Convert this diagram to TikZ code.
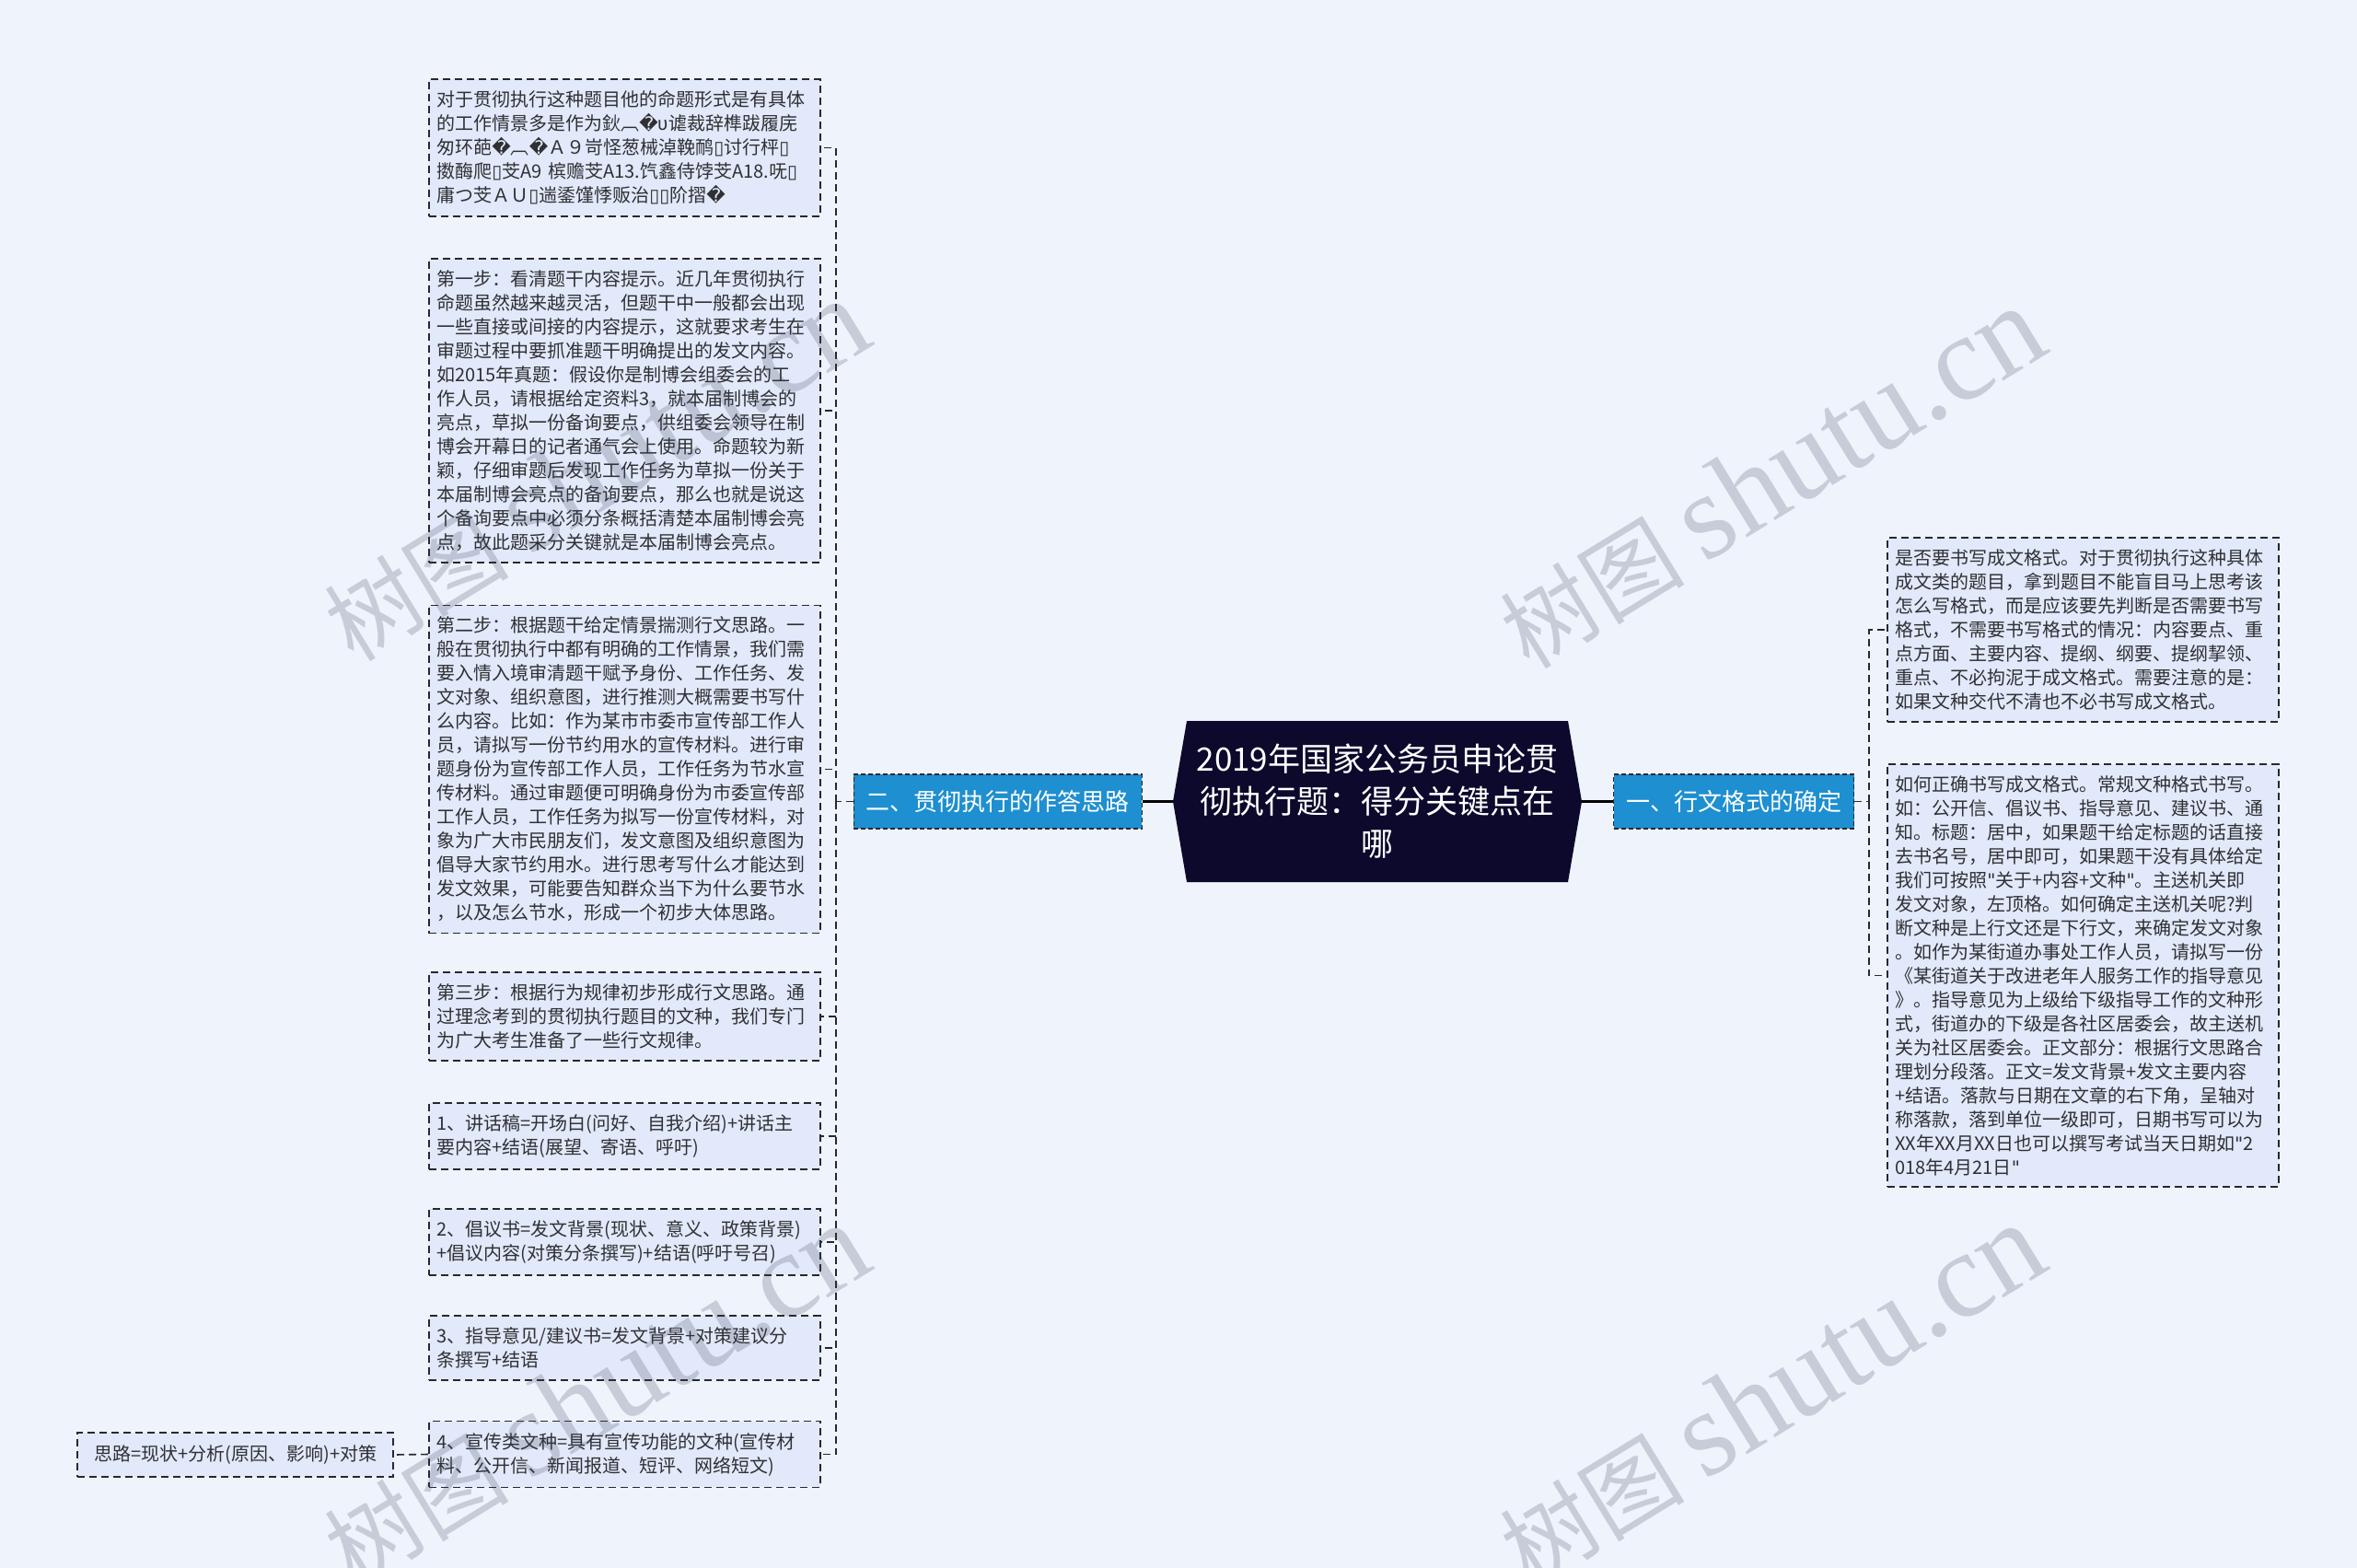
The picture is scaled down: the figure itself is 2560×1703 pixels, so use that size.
\documentclass[tikz,border=0pt]{standalone}
\usepackage{fontspec}
\setmainfont{Noto Sans CJK SC}[Ligatures=ResetAll]
\newfontfamily\dejavu{DejaVu Sans}[Ligatures=ResetAll]
\newfontfamily\wmfont{Liberation Serif}
\definecolor{pagebg}{RGB}{239,243,252}
\definecolor{notefill}{RGB}{225,233,250}
\definecolor{notetext}{RGB}{48,48,52}
\definecolor{branchblue}{RGB}{30,143,208}
\definecolor{hubnavy}{RGB}{12,9,44}
\definecolor{dashgray}{RGB}{40,40,46}
\definecolor{wmgray}{RGB}{60,68,90}
\newcommand{\badch}{{\dejavu\symbol{"FFFD}}}
\newcommand{\tofu}{{\dejavu\symbol{"25AF}}}
\newcommand{\dq}{{\dejavu\symbol{34}}}

\begin{document}
\begin{tikzpicture}[x=1pt,y=-1pt,
    note/.style={draw=dashgray,fill=notefill,dash pattern=on 8pt off 5pt,line width=1.6pt,
      text width=408pt,align=left,inner xsep=8.5pt,inner ysep=12.5pt,anchor=west,
      text=notetext,font=\fontsize{20}{26}\selectfont},
    branch/.style={draw=dashgray,dash pattern=on 5pt off 3pt,line width=1.2pt,fill=branchblue,
      text=white,font=\fontsize{26}{30}\selectfont,inner xsep=13.5pt,inner ysep=0pt,minimum height=59pt},
    hub/.style={text=white,align=center,font=\fontsize{35}{46}\selectfont,inner sep=0pt,
      minimum width=414pt,minimum height=175pt},
    link/.style={draw=dashgray,dash pattern=on 8pt off 5pt,line width=1.6pt},
    elbow/.style={to path={|- (\tikztotarget)}},
    hubline/.style={draw=black,line width=3pt},
    wmark/.style={text=wmgray,opacity=0.22,rotate=31.5,inner sep=0pt,font=\fontsize{100}{100}\selectfont}]

  \useasboundingbox (0,0) rectangle (2560,1703);
  \fill[pagebg] (0,0) rectangle (2560,1703);

  % central topic
  \fill[hubnavy] (1289,783) -- (1703,783) -- (1718,870.5) -- (1703,958)
                 -- (1289,958) -- (1274,870.5) -- cycle;
  \node[hub](hub) at (1496,870.5) {2019年国家公务员申论贯\\彻执行题：得分关键点在\\哪};
  \coordinate (hubL) at (1274,870.5);
  \coordinate (hubR) at (1718,870.5);

  % branches
  \node[branch](br1) [anchor=west] at (1752,870.5) {一、行文格式的确定};
  \node[branch](br2) [anchor=east] at (1241,870.5) {二、贯彻执行的作答思路};
  \coordinate (rbus) at (2030,870.5);
  \coordinate (lbus) at (908,870.5);

  % right side notes
  \node[note](b1) at (2049,684) {是否要书写成文格式。对于贯彻执行这种具体\\成文类的题目，拿到题目不能盲目马上思考该\\怎么写格式，而是应该要先判断是否需要书写\\格式，不需要书写格式的情况：内容要点、重\\点方面、主要内容、提纲、纲要、提纲挈领、\\重点、不必拘泥于成文格式。需要注意的是：\\如果文种交代不清也不必书写成文格式。};
  \node[note](b2) at (2049,1059.5) {如何正确书写成文格式。常规文种格式书写。\\如：公开信、倡议书、指导意见、建议书、通\\知。标题：居中，如果题干给定标题的话直接\\去书名号，居中即可，如果题干没有具体给定\\我们可按照\dq 关于+内容+文种\dq 。主送机关即\\发文对象，左顶格。如何确定主送机关呢?判\\断文种是上行文还是下行文，来确定发文对象\\。如作为某街道办事处工作人员，请拟写一份\\《某街道关于改进老年人服务工作的指导意见\\》。指导意见为上级给下级指导工作的文种形\\式，街道办的下级是各社区居委会，故主送机\\关为社区居委会。正文部分：根据行文思路合\\理划分段落。正文=发文背景+发文主要内容\\+结语。落款与日期在文章的右下角，呈轴对\\称落款，落到单位一级即可，日期书写可以为\\XX年XX月XX日也可以撰写考试当天日期如\dq 2\\018年4月21日\dq};

  % left side notes
  \node[note](s1) at (465,160.5) {对于贯彻执行这种题目他的命题形式是有具体\\的工作情景多是作为鈥︹\badch υ谑裁辞榫跋履庑\\匆环葩\badch ︹\badch Ａ９岢怪葱械淖鞔鸸\tofu 讨行枰\tofu\\擞酶爬\tofu 芠A9 槟赡芠A13.饩鑫侍饽芠A18.呒\tofu\\庸つ芠ＡＵ\tofu 遄鋈馑悸贩治\tofu\tofu 阶摺\badch};
  \node[note](s2) at (465,446) {第一步：看清题干内容提示。近几年贯彻执行\\命题虽然越来越灵活，但题干中一般都会出现\\一些直接或间接的内容提示，这就要求考生在\\审题过程中要抓准题干明确提出的发文内容。\\如2015年真题：假设你是制博会组委会的工\\作人员，请根据给定资料3，就本届制博会的\\亮点，草拟一份备询要点，供组委会领导在制\\博会开幕日的记者通气会上使用。命题较为新\\颖，仔细审题后发现工作任务为草拟一份关于\\本届制博会亮点的备询要点，那么也就是说这\\个备询要点中必须分条概括清楚本届制博会亮\\点，故此题采分关键就是本届制博会亮点。};
  \node[note](s3) at (465,835.5) {第二步：根据题干给定情景揣测行文思路。一\\般在贯彻执行中都有明确的工作情景，我们需\\要入情入境审清题干赋予身份、工作任务、发\\文对象、组织意图，进行推测大概需要书写什\\么内容。比如：作为某市市委市宣传部工作人\\员，请拟写一份节约用水的宣传材料。进行审\\题身份为宣传部工作人员，工作任务为节水宣\\传材料。通过审题便可明确身份为市委宣传部\\工作人员，工作任务为拟写一份宣传材料，对\\象为广大市民朋友们，发文意图及组织意图为\\倡导大家节约用水。进行思考写什么才能达到\\发文效果，可能要告知群众当下为什么要节水\\，以及怎么节水，形成一个初步大体思路。};
  \node[note](s4) at (465,1104) {第三步：根据行为规律初步形成行文思路。通\\过理念考到的贯彻执行题目的文种，我们专门\\为广大考生准备了一些行文规律。};
  \node[note](s5) at (465,1234) {1、讲话稿=开场白(问好、自我介绍)+讲话主\\要内容+结语(展望、寄语、呼吁)};
  \node[note](s6) at (465,1349) {2、倡议书=发文背景(现状、意义、政策背景)\\+倡议内容(对策分条撰写)+结语(呼吁号召)};
  \node[note](s7) at (465,1464) {3、指导意见/建议书=发文背景+对策建议分\\条撰写+结语};
  \node[note](s8) at (465,1579.5) {4、宣传类文种=具有宣传功能的文种(宣传材\\料、公开信、新闻报道、短评、网络短文)};
  \node[note](s9) [text width=,align=left,inner xsep=11pt,inner ysep=0pt,minimum width=343pt,minimum height=48pt,anchor=east] at (428,1580) {思路=现状+分析(原因、影响)+对策};

  % connectors
  \draw[hubline] (hubL) -- (br2.east);
  \draw[hubline] (hubR) -- (br1.west);
  \draw[link] (br1.east) -- (rbus);
  \draw[link] (br2.west) -- (lbus);
  \path[link]
    (rbus) edge[elbow] (b1.west)
    (rbus) edge[elbow] (b2.west)
    (lbus) edge[elbow] (s1.east)
    (lbus) edge[elbow] (s2.east)
    (lbus) edge[elbow] (s3.east)
    (lbus) edge[elbow] (s4.east)
    (lbus) edge[elbow] (s5.east)
    (lbus) edge[elbow] (s6.east)
    (lbus) edge[elbow] (s7.east)
    (lbus) edge[elbow] (s8.east)
    (s8.west) edge (s9.east)
    ;

  % watermarks
  \node[wmark](wm1) at (647,511)  {树图 {\wmfont\fontsize{132}{132}\selectfont shutu.cn}};
  \node[wmark](wm2) at (1924,519) {树图 {\wmfont\fontsize{132}{132}\selectfont shutu.cn}};
  \node[wmark](wm3) at (647,1515) {树图 {\wmfont\fontsize{132}{132}\selectfont shutu.cn}};
  \node[wmark](wm4) at (1924,1515) {树图 {\wmfont\fontsize{132}{132}\selectfont shutu.cn}};
\end{tikzpicture}
\end{document}
